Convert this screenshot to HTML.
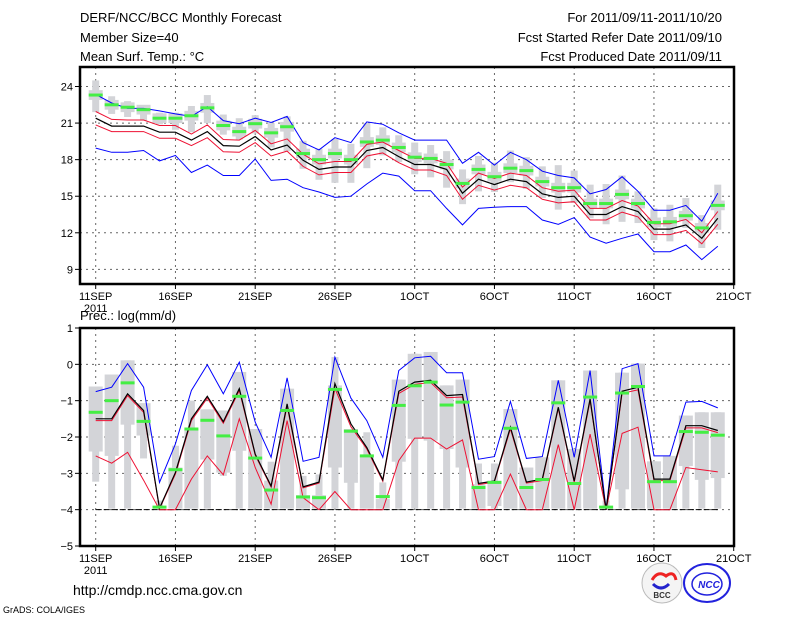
<!DOCTYPE html>
<html><head><meta charset="utf-8"><style>
body{margin:0;background:#fff;}
svg{display:block;font-family:"Liberation Sans",sans-serif;}
</style></head><body>
<svg id="chart" width="800" height="618" viewBox="0 0 800 618">
<g font-size="13" fill="#000">
<text x="80" y="22">DERF/NCC/BCC Monthly Forecast</text>
<text x="80" y="42">Member Size=40</text>
<text x="80" y="61">Mean Surf. Temp.: °C</text>
<text x="722" y="22" text-anchor="end">For 2011/09/11-2011/10/20</text>
<text x="722" y="42" text-anchor="end">Fcst Started Refer Date 2011/09/10</text>
<text x="722" y="61" text-anchor="end">Fcst Produced Date 2011/09/11</text>
<text x="80" y="320">Prec.: log(mm/d)</text>
<text x="73" y="595" font-size="14">http://cmdp.ncc.cma.gov.cn</text>
<text x="3" y="613" font-size="9">GrADS: COLA/IGES</text>
</g>
<g>
<circle cx="662" cy="583" r="20" fill="#f4f4f4" stroke="#bbb" stroke-width="1"/>
<path d="M652 580 q6 -10 14 -4 q8 -6 10 4" fill="none" stroke="#e22" stroke-width="3"/>
<path d="M653 584 q8 8 16 0" fill="none" stroke="#22c" stroke-width="3"/>
<text x="662" y="598" font-size="8" font-weight="bold" text-anchor="middle" fill="#333">BCC</text>
</g>
<g>
<ellipse cx="707" cy="583" rx="23" ry="19" fill="#fff" stroke="#22d" stroke-width="2"/>
<ellipse cx="707" cy="584" rx="15" ry="11" fill="none" stroke="#22d" stroke-width="1.5"/>
<text x="709" y="588" font-size="10" font-weight="bold" font-style="italic" text-anchor="middle" fill="#22d">NCC</text>
</g>
<g id="top"></g>
<g id="bot"></g>
</svg>
<script>
const dates=["11SEP","16SEP","21SEP","26SEP","1OCT","6OCT","11OCT","16OCT","21OCT"];
const tTicks=[24,21,18,15,12,9];
const pTicks=[1,0,-1,-2,-3,-4,-5];
// temperature
const tObs=[23.3,22.5,22.3,22.1,21.4,21.4,21.6,22.25,20.8,20.3,20.95,20.2,20.7,18.5,18.0,18.5,18.0,19.45,19.6,19.0,18.2,18.1,17.6,16.05,17.2,16.6,17.3,17.1,16.2,15.7,15.7,14.4,14.4,15.15,14.4,12.85,12.9,13.4,12.4,14.25];
const tMean=[21.4,20.75,20.75,20.75,20.25,20.25,19.6,20.3,19.15,19.1,19.9,18.8,19.2,17.95,17.2,17.4,17.4,18.75,19.0,18.25,17.6,17.6,17.2,15.25,16.4,15.95,16.4,16.2,15.2,14.9,15.0,13.5,13.5,14.15,13.75,12.3,12.3,12.65,11.55,13.2];
const tRedHi=[21.95,21.3,21.25,21.25,20.8,20.8,20.1,20.85,19.65,19.6,20.4,19.3,19.7,18.45,17.65,17.85,17.85,19.25,19.45,18.75,18.1,18.1,17.7,15.75,16.9,16.45,16.9,16.7,15.7,15.4,15.5,14.0,14.0,14.65,14.2,12.75,12.75,13.1,12.0,13.75];
const tRedLo=[20.85,20.3,20.3,20.3,19.75,19.75,19.15,19.8,18.65,18.6,19.4,18.3,18.7,17.45,16.75,16.95,16.95,18.3,18.55,17.75,17.15,17.15,16.7,14.75,15.9,15.5,15.9,15.7,14.75,14.45,14.55,13.05,13.05,13.7,13.3,11.85,11.85,12.2,11.1,12.7];
const tBlueHi=[23.35,22.65,22.2,22.2,22.0,21.75,21.55,22.35,21.2,20.95,21.4,21.05,21.55,19.4,18.8,19.8,19.4,21.1,20.9,20.2,19.6,19.6,19.6,17.7,18.6,17.55,18.6,18.0,17.05,16.7,16.5,15.2,15.55,16.6,15.4,13.85,13.85,14.25,12.95,15.25];
const tBlueLo=[18.95,18.6,18.6,18.75,17.9,18.35,16.95,17.55,16.7,16.7,18.05,16.3,16.4,15.7,15.35,14.9,15.0,16.0,16.9,16.65,15.45,15.45,14.0,12.65,14.0,14.1,14.15,14.15,13.05,12.7,13.25,11.65,11.15,11.55,11.9,10.45,10.45,11.0,9.8,10.9];
const tWhiskHi=[24.5,23.2,22.8,22.4,21.85,21.85,22.4,23.3,21.7,21.4,21.65,21.0,21.55,19.55,18.9,19.7,19.3,21.0,20.65,20.0,19.4,19.2,18.7,17.2,18.3,17.75,18.75,18.2,17.45,17.55,17.1,15.95,16.0,16.7,15.4,14.0,14.3,14.85,13.45,15.95];
const tWhiskLo=[21.9,21.75,21.5,21.2,20.9,20.45,20.25,21.0,20.05,19.65,20.15,19.0,18.7,17.25,16.35,16.1,16.1,17.3,18.35,17.8,16.8,16.55,15.7,14.35,15.4,15.35,16.15,15.6,14.85,13.9,14.45,13.2,12.7,12.9,12.8,11.4,11.3,12.4,10.75,12.25];
// precipitation
const pObs=[-1.32,-1.0,-0.51,-1.57,-3.93,-2.9,-1.78,-1.54,-1.97,-0.88,-2.58,-3.46,-1.27,-3.65,-3.67,-0.69,-1.84,-2.52,-3.64,-1.13,-0.59,-0.49,-1.12,-1.04,-3.39,-3.25,-1.76,-3.39,-3.17,-1.06,-3.28,-0.9,-3.93,-0.79,-0.61,-3.23,-3.23,-1.85,-1.87,-1.95];
const pMean=[-1.5,-1.5,-0.81,-1.27,-3.96,-2.98,-1.5,-0.88,-1.58,-0.67,-2.47,-3.35,-1.09,-3.37,-3.24,-0.53,-1.64,-2.29,-3.18,-0.74,-0.49,-0.44,-0.86,-0.83,-3.28,-3.21,-1.73,-3.24,-3.16,-1.18,-3.21,-0.95,-4.0,-0.74,-0.63,-3.16,-3.16,-1.69,-1.69,-1.82];
const pRedHi=[-1.55,-1.55,-0.86,-1.32,-3.98,-3.02,-1.55,-0.93,-1.62,-0.72,-2.5,-3.38,-1.14,-3.4,-3.27,-0.66,-1.72,-2.33,-3.22,-0.8,-0.55,-0.5,-0.92,-0.9,-3.31,-3.24,-1.78,-3.27,-3.2,-1.22,-3.25,-1.0,-4.0,-0.8,-0.7,-3.2,-3.2,-1.75,-1.75,-1.88];
const pRedLo=[-2.52,-2.72,-2.42,-3.19,-4,-4,-3.16,-2.52,-3.04,-1.5,-2.84,-3.85,-1.55,-3.67,-4,-3.5,-4,-4,-4,-2.65,-2.03,-2.03,-2.33,-2.08,-4,-4,-3.02,-4,-4,-2.21,-4,-1.92,-4,-1.9,-1.73,-4,-4,-2.84,-2.9,-2.96];
const pBlue=[-0.75,-0.63,0.02,-0.63,-3.25,-2.19,-0.72,-0.01,-0.81,0.06,-1.59,-2.56,-0.37,-2.67,-2.56,0.2,-0.93,-1.55,-2.56,-0.17,0.18,0.22,-0.23,-0.23,-2.61,-2.54,-1.02,-2.59,-2.54,-0.44,-2.56,-0.17,-4.0,-0.12,0.02,-2.52,-2.52,-1.04,-1.02,-1.2];
const pWhiskHi=[-0.61,-0.28,0.11,-1.07,-3.75,-2.24,-1.0,-1.24,-1.27,-0.21,-1.78,-2.68,-0.67,-3.07,-3.03,0.2,-1.78,-1.87,-3.25,-0.42,0.29,0.34,-0.58,-0.42,-2.73,-2.73,-1.23,-2.84,-2.56,-0.44,-2.33,-0.17,-3.75,-0.23,0.02,-2.67,-2.52,-1.41,-1.32,-1.32];
const pWhiskLo=[-3.23,-3.97,-3.97,-2.59,-3.97,-3.97,-3.97,-3.97,-3.07,-3.97,-3.97,-3.97,-3.97,-3.97,-3.97,-3.97,-3.97,-3.97,-3.97,-3.97,-3.97,-3.97,-3.97,-3.97,-3.97,-3.97,-3.97,-3.97,-3.97,-3.97,-3.97,-3.97,-3.97,-3.97,-3.97,-3.97,-3.97,-3.97,-3.97,-3.97];
const pBoxHi=[-0.61,-0.28,0.11,-1.07,-3.9,-2.84,-1.78,-1.24,-1.27,-0.21,-1.78,-3.2,-0.67,-3.6,-3.6,-0.58,-1.78,-2.5,-3.7,-0.42,0.29,0.34,-0.58,-0.42,-3.3,-3.2,-1.23,-2.84,-2.56,-0.44,-2.33,-0.17,-3.9,-0.23,0.02,-2.67,-2.52,-1.41,-1.32,-1.32];
const pBoxLo=[-2.4,-2.52,-1.66,-1.96,-3.97,-3.97,-3.97,-2.62,-2.98,-2.38,-3.97,-3.97,-3.97,-3.97,-3.97,-2.84,-3.26,-3.97,-3.97,-2.68,-2.05,-2.1,-2.33,-2.84,-3.97,-3.9,-3.97,-3.97,-3.97,-3.97,-3.97,-3.97,-3.97,-3.44,-3.97,-3.97,-3.97,-2.8,-3.18,-3.13];

const NS="http://www.w3.org/2000/svg";
const X=d=>95.7+15.95*d;
const X0=80,X1=734;
function el(p,t,a){const e=document.createElementNS(NS,t);for(const k in a)e.setAttribute(k,a[k]);p.appendChild(e);return e;}
function panel(g,top,bot,vTop,vBot,ticks,name){
  const Y=v=>top+(vTop-v)*(bot-top)/(vTop-vBot);
  ticks.forEach(t=>{const yy=Y(t);if(yy>top+2&&yy<bot-2){const l=el(g,'line',{x1:X0,x2:X1,y1:yy,y2:yy,stroke:'#666','stroke-dasharray':'2,4','stroke-width':1});
    
    }
    const tk=el(g,'line',{x1:X0-5,x2:X0,y1:yy,y2:yy,stroke:'#000'});
    
    
    const tx=el(g,'text',{x:X0-7,y:yy+4,'text-anchor':'end','font-size':11});tx.textContent=String(t).replace('-','−');
    
    });
  dates.forEach((s,i)=>{const xx=X(i*5);
    if(i<8){const l=el(g,'line',{x1:xx,x2:xx,y1:top,y2:bot,stroke:'#666','stroke-dasharray':'2,4'});
    
    }
    const tk=el(g,'line',{x1:xx,x2:xx,y1:bot,y2:bot+5,stroke:'#000'});
    
    
    const tx=el(g,'text',{x:xx,y:bot+16,'text-anchor':'middle','font-size':11});tx.textContent=s;
    
    
    if(i==0){const y2=el(g,'text',{x:xx,y:bot+28,'text-anchor':'middle','font-size':11});y2.textContent='2011';
    
    }});
  return Y;
}
function series(g,Y,arr,color,w,name){
  const pts=arr.map((v,i)=>X(i).toFixed(1)+','+Y(v).toFixed(1)).join(' ');
  const p=el(g,'polyline',{points:pts,fill:'none',stroke:color,'stroke-width':w});
  
  
}
function boxes(g,Y,wHi,wLo,bHi,bLo,name){
  wHi.forEach((v,i)=>{const r=el(g,'rect',{x:X(i)-3.5,y:Y(v),width:7,height:Math.max(1,Y(wLo[i])-Y(v)),fill:'#d3d4d8'});
    
    
    const b=el(g,'rect',{x:X(i)-7,y:Y(bHi[i]),width:14,height:Math.max(1,Y(bLo[i])-Y(bHi[i])),fill:'#d3d4d8'});
    
    });
}
function obs(g,Y,arr,name){
  arr.forEach((v,i)=>{const r=el(g,'rect',{x:X(i)-7,y:Y(v)-1.5,width:14,height:3,fill:'#44ee44'});
    
    });
}
const gt=document.getElementById('top');
const Yt=panel(gt,67,284,25.6,7.8,tTicks,'temp');
const tBoxHi=tObs.map(v=>v+0.4), tBoxLo=tObs.map(v=>v-0.4);
boxes(gt,Yt,tWhiskHi,tWhiskLo,tBoxHi,tBoxLo,'temp-spread');
series(gt,Yt,tBlueHi,'#0000ff',1,'temp-upper-envelope');
series(gt,Yt,tBlueLo,'#0000ff',1,'temp-lower-envelope');
series(gt,Yt,tRedHi,'#ee1133',1,'temp-upper-band');
series(gt,Yt,tRedLo,'#ee1133',1,'temp-lower-band');
series(gt,Yt,tMean,'#000',1.2,'temp-ensemble-mean');
obs(gt,Yt,tObs,'temp-observed');
const ft=el(gt,'rect',{x:X0,y:67,width:X1-X0,height:217,fill:'none',stroke:'#000','stroke-width':2.5});


const gb=document.getElementById('bot');
const Yb=panel(gb,328,546,1,-5,pTicks,'prec');
boxes(gb,Yb,pWhiskHi,pWhiskLo,pBoxHi,pBoxLo,'prec-spread');
const base=el(gb,'line',{x1:X(0),x2:X(39),y1:Yb(-4),y2:Yb(-4),stroke:'#000','stroke-width':1,'stroke-dasharray':'6,2'});


series(gb,Yb,pBlue,'#0000ff',1,'prec-upper-envelope');
series(gb,Yb,pRedLo,'#ee1133',1,'prec-lower-band');
series(gb,Yb,pRedHi,'#ee1133',1,'prec-median');
series(gb,Yb,pMean,'#000',1.2,'prec-ensemble-mean');
obs(gb,Yb,pObs,'prec-observed');
const fb=el(gb,'rect',{x:X0,y:328,width:X1-X0,height:218,fill:'none',stroke:'#000','stroke-width':2.5});


</script>
</body></html>
